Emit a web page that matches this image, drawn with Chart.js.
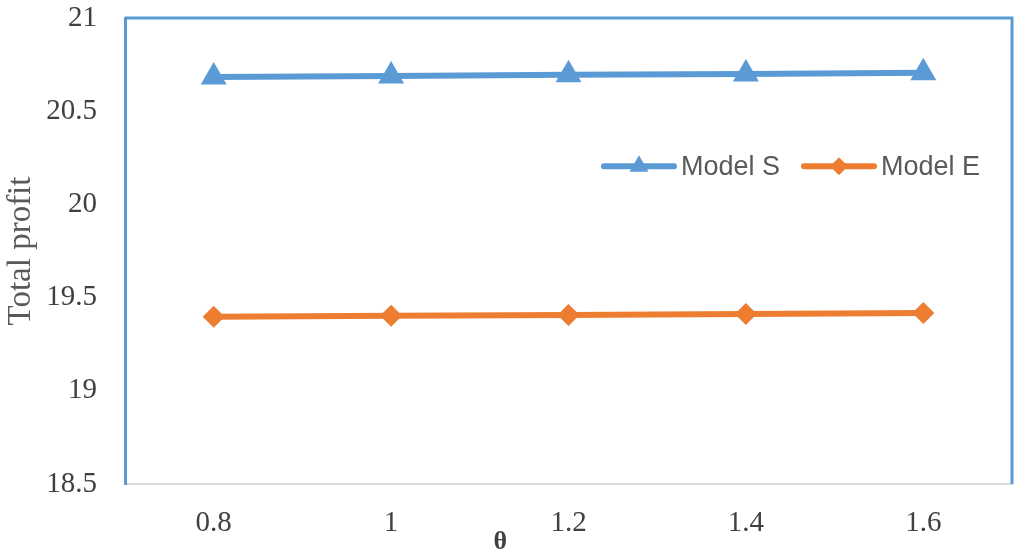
<!DOCTYPE html>
<html lang="en">
    <head>
        <meta charset="utf-8" />
        <script src="https://cdn.jsdelivr.net/npm/chart.js@4.4.1/dist/chart.umd.min.js"></script>
        <title>Total profit vs theta</title>
        <style>
            html, body { margin: 0; padding: 0; background: #fff; }
            #wrap { width: 1033px; height: 557px; }
        </style>
    </head>
    <body>
        <div id="wrap"><canvas id="grafico"></canvas></div>
        <script>
            // valores
            const thetas = ["0.8", "1", "1.2", "1.4", "1.6"];
            const modelS = [20.684, 20.689, 20.695, 20.700, 20.706];
            const modelE = [19.397, 19.402, 19.407, 19.412, 19.418];
            const yTicks = [18.5, 19, 19.5, 20, 20.5, 21];

            const azul = "#5B9BD5";
            const naranja = "#ED7D31";
            const gris = "#595959";

            function marca(ctx, estilo, x, y, r, color) {
                ctx.save();
                ctx.fillStyle = color;
                ctx.beginPath();
                if (estilo === "triangle") {
                    ctx.moveTo(x, y - r);
                    ctx.lineTo(x + Math.sin(2 * Math.PI / 3) * r, y + r / 2);
                    ctx.lineTo(x - Math.sin(2 * Math.PI / 3) * r, y + r / 2);
                } else {
                    ctx.moveTo(x - r, y);
                    ctx.lineTo(x, y - r);
                    ctx.lineTo(x + r, y);
                    ctx.lineTo(x, y + r);
                }
                ctx.closePath();
                ctx.fill();
                ctx.restore();
            }

            // marco azul arriba y a la derecha, leyenda y titulo theta
            const extras = {
                id: "extras",
                afterDraw(chart) {
                    const ctx = chart.ctx;
                    const a = chart.chartArea;
                    ctx.save();
                    ctx.strokeStyle = azul;
                    ctx.lineWidth = 3;
                    ctx.beginPath();
                    ctx.moveTo(a.left, a.top);
                    ctx.lineTo(a.right, a.top);
                    ctx.lineTo(a.right, a.bottom);
                    ctx.stroke();

                    // leyenda
                    let x = a.left + (a.right - a.left) * 0.54;
                    const y = a.top + (a.bottom - a.top) * 0.318;
                    ctx.font = "27px 'Liberation Sans', Arial, sans-serif";
                    ctx.textBaseline = "middle";
                    chart.data.datasets.forEach(ds => {
                        ctx.strokeStyle = ds.borderColor;
                        ctx.lineWidth = 6;
                        ctx.lineCap = "round";
                        ctx.beginPath();
                        ctx.moveTo(x, y);
                        ctx.lineTo(x + 70, y);
                        ctx.stroke();
                        marca(ctx, ds.pointStyle, x + 35, y, ds.pointStyle === "triangle" ? 11 : 9, ds.borderColor);
                        ctx.fillStyle = gris;
                        ctx.fillText(ds.label, x + 77, y + 1);
                        x += 77 + ctx.measureText(ds.label).width + 24;
                    });

                    // titulo del eje x
                    ctx.font = "bold 26px 'Liberation Serif', 'Times New Roman', serif";
                    ctx.fillStyle = "#404040";
                    ctx.textAlign = "center";
                    ctx.textBaseline = "middle";
                    ctx.fillText("θ", a.left + (a.right - a.left) * 0.423, 542);
                    ctx.restore();
                }
            };

            new Chart(document.getElementById("grafico"), {
                type: "line",
                data: {
                    labels: thetas,
                    datasets: [
                        { label: "Model S", data: modelS, borderColor: azul, backgroundColor: azul, borderWidth: 6,
                          pointStyle: "triangle", pointRadius: 15, pointHoverRadius: 15, pointBorderWidth: 0 },
                        { label: "Model E", data: modelE, borderColor: naranja, backgroundColor: naranja, borderWidth: 6,
                          pointStyle: "rectRot", pointRadius: 11, pointHoverRadius: 11, pointBorderWidth: 0 }
                    ]
                },
                options: {
                    responsive: true,
                    maintainAspectRatio: false,
                    animation: false,
                    layout: { padding: { top: 18, right: 21, left: 0, bottom: 0 } },
                    plugins: {
                        legend: { display: false },
                        tooltip: { enabled: false }
                    },
                    scales: {
                        x: {
                            offset: true,
                            grid: { display: false, drawTicks: false },
                            border: { color: "#D9D9D9", width: 2 },
                            ticks: {
                                color: "#404040",
                                padding: 22,
                                font: { family: "'Liberation Serif', 'Times New Roman', serif", size: 29 }
                            },
                            afterFit(s) { s.height = 73; s.paddingLeft = 0; s.paddingRight = 0; }
                        },
                        y: {
                            min: 18.5,
                            max: 21,
                            afterBuildTicks(s) { s.ticks = yTicks.map(v => ({ value: v })); },
                            grid: { display: false, drawTicks: false },
                            border: { color: azul, width: 3 },
                            ticks: {
                                color: "#404040",
                                padding: 28,
                                font: { family: "'Liberation Serif', 'Times New Roman', serif", size: 29 },
                                callback: v => String(v)
                            },
                            title: {
                                display: true,
                                text: "Total profit",
                                color: gris,
                                padding: { top: 2, bottom: 0 },
                                font: { family: "'Liberation Serif', 'Times New Roman', serif", size: 33 }
                            },
                            afterFit(s) { s.width = 125; s.paddingTop = 0; s.paddingBottom = 0; }
                        }
                    }
                },
                plugins: [extras]
            });
        </script>
    </body>
</html>
